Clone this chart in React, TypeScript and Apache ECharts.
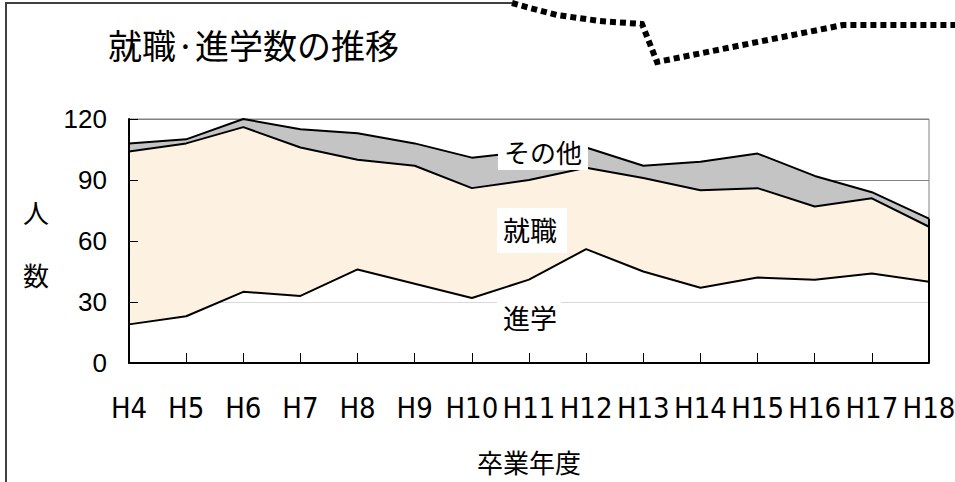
import React, { useEffect, useRef } from "react";
import * as echarts from "echarts";

const categories = ["H4", "H5", "H6", "H7", "H8", "H9", "H10", "H11", "H12", "H13", "H14", "H15", "H16", "H17", "H18"];
const shingaku = [19, 23, 35, 33, 46, 39, 32, 41, 56, 45, 37, 42, 41, 44, 40];
const shushoku = [85, 85, 81, 73, 54, 58, 54, 49, 40, 46, 48, 44, 36, 37, 27];
const sonota = [4, 2, 4, 9, 13, 11, 15, 14, 10, 6, 14, 17, 15, 3, 4];
const yTicks = { min: 0, max: 120, interval: 30 };

const latin = "'Liberation Sans', Arial, sans-serif";
const narrow = "'Liberation Sans Narrow', 'Arial Narrow', 'DejaVu Sans Condensed', sans-serif";
const cjk = "'Noto Sans CJK JP', 'Noto Sans CJK SC', sans-serif";

export default function App() {
  const ref = useRef<HTMLDivElement>(null);
  useEffect(() => {
    if (!ref.current) return;
    const chart = echarts.init(ref.current, undefined, { renderer: "svg" });
    const last = categories.length - 1;
    const lastTotal = shingaku[last] + shushoku[last] + sonota[last];
    chart.setOption({
      animation: false,
      backgroundColor: "#ffffff",
      title: {
        text: "就職·進学数の推移",
        left: 103,
        top: 22,
        textStyle: { fontFamily: cjk, fontSize: 34, fontWeight: "normal", color: "#000" },
      },
      grid: {
        left: 129,
        right: 26,
        top: 119,
        bottom: 119,
        containLabel: false,
        outerBoundsMode: "none",
        show: true,
        borderColor: "#808080",
        borderWidth: 1,
        backgroundColor: "transparent",
      },
      xAxis: {
        type: "category",
        data: categories,
        boundaryGap: false,
        axisLine: { lineStyle: { color: "#000", width: 2 } },
        axisTick: { inside: true, length: 10, interval: 0, lineStyle: { color: "#000", width: 1 } },
        axisLabel: { interval: 0, margin: 30, fontFamily: narrow, fontSize: 29, color: "#000" },
        splitLine: { show: false },
        name: "卒業年度",
        nameLocation: "middle",
        nameGap: 85,
        nameTextStyle: { fontFamily: cjk, fontSize: 26, color: "#000" },
        z: 5,
      },
      yAxis: [
        {
          type: "value",
          min: yTicks.min,
          max: yTicks.max,
          interval: yTicks.interval,
          axisLine: { show: false },
          axisTick: { show: false },
          axisLabel: { show: false },
          splitLine: { show: true, lineStyle: { color: "#808080", width: 1 } },
          z: 0,
        },
        {
          type: "value",
          position: "left",
          min: yTicks.min,
          max: yTicks.max,
          interval: yTicks.interval,
          axisLine: { show: true, lineStyle: { color: "#000", width: 2 } },
          axisTick: { show: true, inside: true, length: 9, lineStyle: { color: "#000", width: 1 } },
          axisLabel: { margin: 22, fontFamily: latin, fontSize: 26, color: "#000", padding: [6, 0, 0, 0] },
          splitLine: { show: false },
          z: 5,
        },
      ],
      series: [
        {
          name: "進学",
          type: "line",
          stack: "total",
          yAxisIndex: 0,
          data: shingaku,
          symbol: "none",
          lineStyle: { color: "#000", width: 2 },
          areaStyle: { color: "#ffffff", opacity: 0.7 },
          z: 3,
        },
        {
          name: "就職",
          type: "line",
          stack: "total",
          yAxisIndex: 0,
          data: shushoku,
          symbol: "none",
          lineStyle: { color: "#000", width: 2 },
          areaStyle: { color: "#fdf2e2", opacity: 1 },
          z: 2,
        },
        {
          name: "その他",
          type: "line",
          stack: "total",
          yAxisIndex: 0,
          data: sonota,
          symbol: "none",
          lineStyle: { color: "#000", width: 2 },
          areaStyle: { color: "#c4c4c4", opacity: 1 },
          z: 1,
          markLine: {
            symbol: "none",
            silent: true,
            label: { show: false },
            lineStyle: { color: "#000", width: 2, type: "solid" },
            data: [[{ coord: [categories[last], 0] }, { coord: [categories[last], lastTotal] }]],
          },
        },
      ],
      graphic: [
        {
          type: "polyline",
          shape: { points: [[6, 482], [6, 3], [512, 3]] },
          style: { stroke: "#404040", lineWidth: 2, fill: "none" },
        },
        {
          type: "polyline",
          shape: {
            points: [[512, 3], [530, 8], [557, 15], [600, 21], [642, 24], [657, 62], [843, 25], [955, 25]],
          },
          style: { stroke: "#000", lineWidth: 6, lineDash: [6, 4], fill: "none" },
        },
        {
          type: "text",
          left: 23,
          top: 198,
          style: { text: "人", fontFamily: cjk, fontSize: 26, fill: "#000" },
        },
        {
          type: "text",
          left: 23,
          top: 261,
          style: { text: "数", fontFamily: cjk, fontSize: 26, fill: "#000" },
        },
        {
          type: "text",
          left: 498,
          top: 134,
          z: 100,
          style: {
            text: "その他",
            fontFamily: cjk,
            fontSize: 26,
            fill: "#000",
            backgroundColor: "#fff",
            padding: [4, 6, 6, 6],
          },
        },
        {
          type: "text",
          left: 497,
          top: 208,
          z: 100,
          style: {
            text: "就職",
            fontFamily: cjk,
            fontSize: 27,
            fill: "#000",
            backgroundColor: "#fff",
            padding: [8, 10, 10, 6],
          },
        },
        {
          type: "text",
          left: 497,
          top: 296,
          z: 100,
          style: {
            text: "進学",
            fontFamily: cjk,
            fontSize: 27,
            fill: "#000",
            backgroundColor: "#fff",
            padding: [8, 4, 6, 6],
          },
        },
      ],
    });
    return () => chart.dispose();
  }, []);
  return (
    <div
      ref={ref}
      style={{ position: "fixed", left: 0, top: 0, width: 955, height: 482 }}
    />
  );
}
